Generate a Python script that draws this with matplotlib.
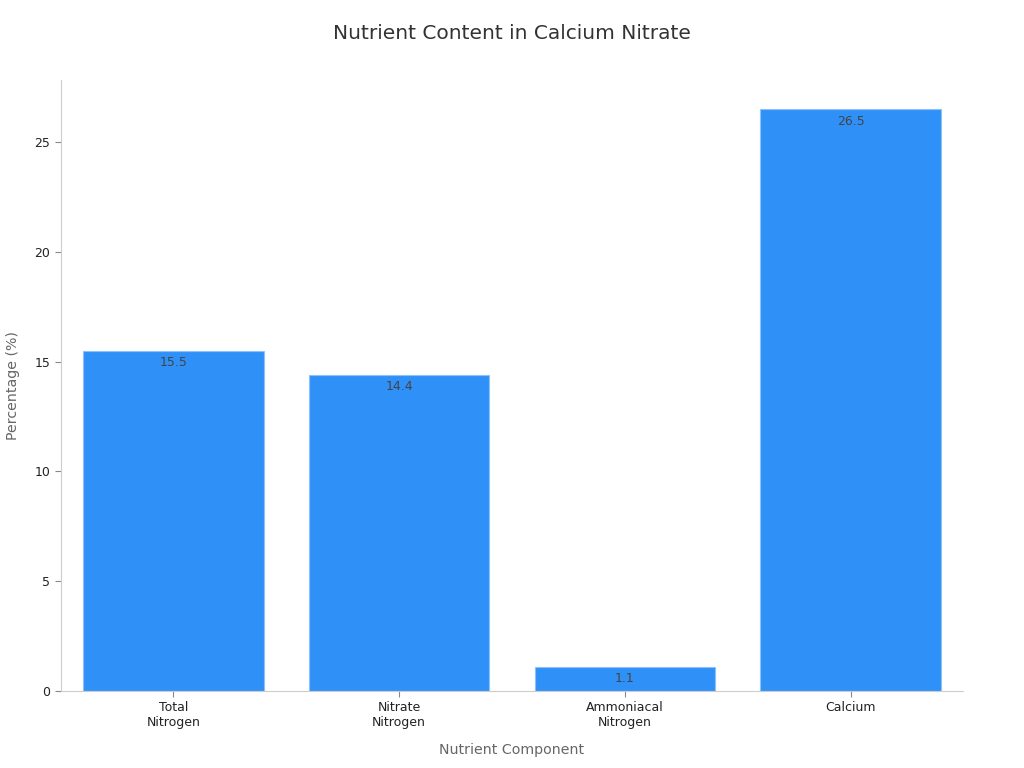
import matplotlib
matplotlib.use("Agg")
import matplotlib.pyplot as plt

categories = ["Total\nNitrogen", "Nitrate\nNitrogen", "Ammoniacal\nNitrogen", "Calcium"]
values = [15.5, 14.4, 1.1, 26.5]
yticks = [0, 5, 10, 15, 20, 25]

fig = plt.figure(figsize=(10.24, 7.68), dpi=100)
ax = fig.add_axes([0.0591, 0.1003, 0.8818, 0.7956])

x = list(range(len(categories)))
bars = ax.bar(x, values, width=0.8, color="#2f91f8", edgecolor="#8cc2fb", linewidth=0.8)
for xi, v in zip(x, values):
    ax.text(xi, v - 0.25, f"{v}", ha="center", va="top", fontsize=9, color="#444444")

ax.set_xlim(-0.5, 3.5)
ax.set_ylim(0, 27.83)
ax.set_xticks(x)
ax.set_xticklabels(categories, fontsize=9, color="#222222")
ax.set_yticks(yticks)
ax.set_yticklabels([str(t) for t in yticks], fontsize=9, color="#222222")
ax.tick_params(axis="both", color="#888888", length=4)

for s in ["top", "right"]:
    ax.spines[s].set_visible(False)
for s in ["left", "bottom"]:
    ax.spines[s].set_color("#cccccc")

ax.set_xlabel("Nutrient Component", fontsize=10.2, color="#666666", labelpad=10)
ax.set_ylabel("Percentage (%)", fontsize=10.2, color="#666666", labelpad=10)
fig.text(0.5, 0.957, "Nutrient Content in Calcium Nitrate", ha="center", va="center", fontsize=14.5, color="#333333")

fig.savefig("out.png", dpi=100)
